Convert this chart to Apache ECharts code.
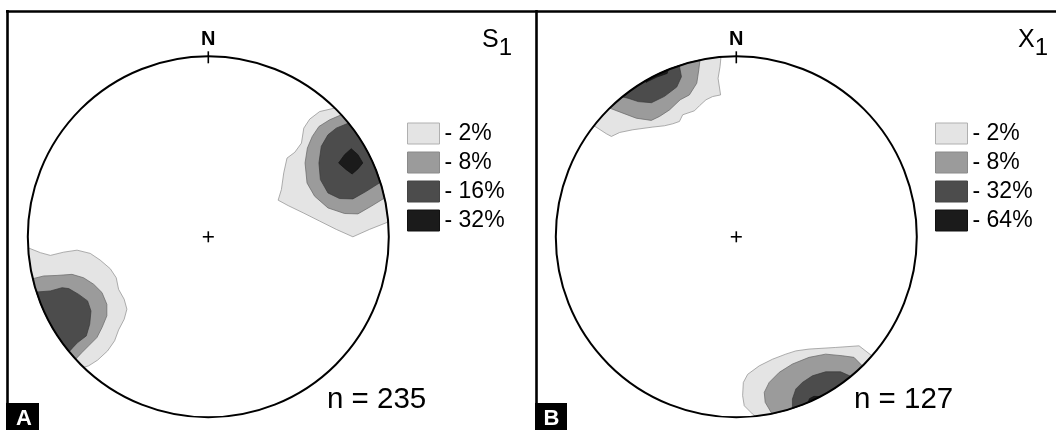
<!DOCTYPE html>
<html>
<head>
<meta charset="utf-8">
<title>Stereonet contour plots</title>
<script src="https://cdn.jsdelivr.net/npm/echarts@6/dist/echarts.min.js"></script>
<style>
  html, body { margin: 0; padding: 0; background: #fff; }
  #chart { width: 1056px; height: 430px; }
</style>
</head>
<body>
<div id="chart"></div>
<script>
// ---- data: contour levels, sample sizes and contour outlines ----
// Outlines are given as [east, north] on the unit primitive circle
// (radius 1, north up). Open outlines start and end on the rim and are
// closed along the rim arc; the others are closed polygons.

const S1_LEVELS = ['2%', '8%', '16%', '32%'];
const X1_LEVELS = ['2%', '8%', '32%', '64%'];
const S1_COUNT = 235;
const X1_COUNT = 127;

// S1 poles, 2% contour
const S1_CONTOUR_2 = [
  [[0.700,0.713],[0.617,0.694],[0.562,0.652],[0.529,0.602],[0.516,0.519],[0.479,0.468],[0.436,0.436],[0.418,0.354],[0.405,0.262],[0.387,0.203],[0.442,0.173],[0.525,0.133],[0.617,0.087],[0.709,0.041],[0.801,0.000],[0.893,0.041],[0.994,0.081]],
  [[-0.998,-0.061],[-0.930,-0.088],[-0.875,-0.103],[-0.801,-0.085],[-0.727,-0.074],[-0.654,-0.092],[-0.599,-0.129],[-0.543,-0.177],[-0.510,-0.227],[-0.497,-0.291],[-0.466,-0.346],[-0.451,-0.401],[-0.466,-0.457],[-0.497,-0.516],[-0.519,-0.576],[-0.558,-0.632],[-0.613,-0.683],[-0.663,-0.715],[-0.691,-0.723]]
];
// S1 poles, 8% contour
const S1_CONTOUR_8 = [
  [[0.737,0.676],[0.672,0.648],[0.613,0.611],[0.576,0.556],[0.549,0.492],[0.536,0.409],[0.547,0.298],[0.589,0.225],[0.663,0.160],[0.755,0.129],[0.829,0.127],[0.902,0.169],[0.977,0.215]],
  [[-0.972,-0.232],[-0.912,-0.217],[-0.838,-0.214],[-0.755,-0.208],[-0.691,-0.227],[-0.635,-0.263],[-0.589,-0.309],[-0.562,-0.374],[-0.562,-0.438],[-0.589,-0.503],[-0.617,-0.558],[-0.663,-0.604],[-0.700,-0.641],[-0.735,-0.678]]
];
// S1 poles, 16% contour
const S1_CONTOUR_16 = [
  [[0.777,0.630],[0.709,0.602],[0.663,0.565],[0.626,0.501],[0.613,0.409],[0.621,0.317],[0.663,0.243],[0.727,0.212],[0.801,0.210],[0.875,0.252],[0.954,0.302]],
  [[-0.952,-0.306],[-0.875,-0.300],[-0.810,-0.282],[-0.773,-0.287],[-0.718,-0.319],[-0.669,-0.355],[-0.650,-0.411],[-0.657,-0.484],[-0.676,-0.549],[-0.724,-0.586],[-0.750,-0.613],[-0.771,-0.637]]
];
// S1 poles, 32% contour (closed maximum)
const S1_CONTOUR_32 = [
  [[0.792,0.488],[0.755,0.455],[0.722,0.409],[0.764,0.372],[0.797,0.348],[0.829,0.376],[0.856,0.409],[0.829,0.455]]
];

// X1 lineations, 2% contour
const X1_CONTOUR_2 = [
  [[-0.085,0.996],[-0.090,0.943],[-0.101,0.878],[-0.087,0.786],[-0.131,0.777],[-0.168,0.759],[-0.204,0.726],[-0.232,0.698],[-0.297,0.676],[-0.315,0.639],[-0.352,0.626],[-0.398,0.615],[-0.462,0.608],[-0.573,0.593],[-0.646,0.578],[-0.692,0.556],[-0.720,0.571],[-0.788,0.615]],
  [[0.751,-0.659],[0.680,-0.604],[0.551,-0.613],[0.403,-0.622],[0.330,-0.632],[0.274,-0.650],[0.201,-0.678],[0.127,-0.715],[0.063,-0.762],[0.039,-0.807],[0.035,-0.880],[0.044,-0.936],[0.090,-0.982],[0.105,-0.994]]
];
// X1 lineations, 8% contour
const X1_CONTOUR_8 = [
  [[-0.201,0.980],[-0.208,0.924],[-0.219,0.851],[-0.260,0.786],[-0.311,0.759],[-0.370,0.703],[-0.425,0.667],[-0.471,0.645],[-0.554,0.657],[-0.628,0.685],[-0.702,0.713]],
  [[0.698,-0.715],[0.652,-0.668],[0.587,-0.659],[0.495,-0.650],[0.403,-0.668],[0.311,-0.705],[0.238,-0.751],[0.182,-0.807],[0.155,-0.862],[0.160,-0.917],[0.182,-0.954],[0.197,-0.980]]
];
// X1 lineations, 32% contour
const X1_CONTOUR_32 = [
  [[-0.316,0.949],[-0.304,0.887],[-0.330,0.830],[-0.398,0.778],[-0.470,0.743],[-0.543,0.749],[-0.600,0.768],[-0.632,0.775]],
  [[0.634,-0.773],[0.578,-0.748],[0.495,-0.748],[0.422,-0.770],[0.366,-0.807],[0.330,-0.843],[0.311,-0.899],[0.311,-0.950]]
];
// X1 lineations, 64% contour
const X1_CONTOUR_64 = [
  [[-0.377,0.926],[-0.383,0.905],[-0.440,0.885],[-0.488,0.862],[-0.500,0.855],[-0.496,0.868]],
  [[0.398,-0.917],[0.405,-0.897],[0.430,-0.884],[0.458,-0.885],[0.475,-0.880]]
];

// ---- styling ----
const FONT = "'Liberation Sans', Arial, Helvetica, sans-serif";
const SHADES = ['#e4e4e4', '#9b9b9b', '#4c4c4c', '#1b1b1b'];
const EDGES  = ['#8c8c8c', '#666666', '#3a3a3a', '#111111'];
const BOX_EDGES = ['#b0b0b0', '#8a8a8a', '#444444', '#111111'];

// Close an outline whose ends sit on the rim by following the rim arc
function closeOnRim(pts) {
  const out = pts.slice();
  const f = pts[0], l = pts[pts.length - 1];
  const onRim = p => Math.hypot(p[0], p[1]) > 0.98;
  if (onRim(f) && onRim(l)) {
    const a0 = Math.atan2(l[1], l[0]);
    let d = Math.atan2(f[1], f[0]) - a0;
    while (d > Math.PI) d -= 2 * Math.PI;
    while (d < -Math.PI) d += 2 * Math.PI;
    const n = Math.max(2, Math.ceil(Math.abs(d) / 0.01));
    for (let i = 1; i < n; i++) {
      const a = a0 + d * i / n;
      out.push([Math.cos(a), Math.sin(a)]);
    }
  }
  return out;
}

function contourSeries(key, gridIdx, level, polys, shade) {
  return {
    type: 'custom',
    name: key + ' ' + level,
    coordinateSystem: 'cartesian2d',
    xAxisIndex: gridIdx,
    yAxisIndex: gridIdx,
    z: 2,
    silent: true,
    itemStyle: { color: SHADES[shade] },
    data: polys.map((p, i) => [i]),
    renderItem: function (params, api) {
      const pts = closeOnRim(polys[params.dataIndex]).map(p => api.coord(p));
      return {
        type: 'polygon',
        shape: { points: pts },
        style: { fill: SHADES[shade], stroke: EDGES[shade], lineWidth: 0.7 }
      };
    }
  };
}

// primitive circle, north tick, centre cross and "N"
function rimSeries(gridIdx) {
  return {
    type: 'custom',
    coordinateSystem: 'cartesian2d',
    xAxisIndex: gridIdx,
    yAxisIndex: gridIdx,
    z: 3,
    silent: true,
    data: [[0, 0]],
    renderItem: function (params, api) {
      const c = api.coord([0, 0]);
      const top = api.coord([0, 1]);
      const r = c[1] - top[1];
      const ink = { stroke: '#000', lineWidth: 1.6 };
      return {
        type: 'group',
        children: [
          { type: 'circle', shape: { cx: c[0], cy: c[1], r: r }, style: { fill: 'none', stroke: '#000', lineWidth: 2 } },
          { type: 'line', shape: { x1: top[0], y1: top[1] - 5, x2: top[0], y2: top[1] + 7 }, style: ink },
          { type: 'line', shape: { x1: c[0] - 5.5, y1: c[1], x2: c[0] + 5.5, y2: c[1] }, style: ink },
          { type: 'line', shape: { x1: c[0], y1: c[1] - 5.5, x2: c[0], y2: c[1] + 5.5 }, style: ink },
          { type: 'text', style: { text: 'N', x: top[0], y: top[1] - 16.5, align: 'center', verticalAlign: 'middle',
              fontSize: 20, fontWeight: 'bold', fontFamily: FONT, fill: '#000' } }
        ]
      };
    }
  };
}

function legendFor(key, levels, left) {
  return {
    orient: 'vertical',
    left: left,
    top: 122,
    padding: 0,
    itemWidth: 32,
    itemHeight: 21,
    itemGap: 6,
    icon: 'rect',
    selectedMode: false,
    textStyle: { fontSize: 23, lineHeight: 21, color: '#000', fontFamily: FONT },
    formatter: name => '- ' + name.split(' ')[1],
    data: levels.map((lv, i) => ({
      name: key + ' ' + lv,
      itemStyle: { color: SHADES[i], borderColor: BOX_EDGES[i], borderWidth: 1 }
    }))
  };
}

const s1Sets = [S1_CONTOUR_2, S1_CONTOUR_8, S1_CONTOUR_16, S1_CONTOUR_32];
const x1Sets = [X1_CONTOUR_2, X1_CONTOUR_8, X1_CONTOUR_32, X1_CONTOUR_64];

const series = [];
S1_LEVELS.forEach((lv, i) => series.push(contourSeries('S1', 0, lv, s1Sets[i], i)));
X1_LEVELS.forEach((lv, i) => series.push(contourSeries('X1', 1, lv, x1Sets[i], i)));
series.push(rimSeries(0), rimSeries(1));

const axisOff = { type: 'value', min: -1, max: 1, show: false };

const frame = { stroke: '#000', lineWidth: 2.6 };

const titleRich = {
  a: { fontSize: 25, fontFamily: FONT, verticalAlign: 'top', lineHeight: 32 },
  b: { fontSize: 24, fontFamily: FONT, verticalAlign: 'bottom', lineHeight: 32 }
};

const option = {
  animation: false,
  backgroundColor: '#fff',
  grid: [
    { left: 27.8, top: 56.3, width: 361, height: 361 },
    { left: 555.8, top: 56.3, width: 361, height: 361 }
  ],
  xAxis: [Object.assign({ gridIndex: 0 }, axisOff), Object.assign({ gridIndex: 1 }, axisOff)],
  yAxis: [Object.assign({ gridIndex: 0 }, axisOff), Object.assign({ gridIndex: 1 }, axisOff)],
  legend: [legendFor('S1', S1_LEVELS, 407), legendFor('X1', X1_LEVELS, 935)],
  series: series,
  graphic: [
    { type: 'line', shape: { x1: 6, y1: 11.5, x2: 1056, y2: 11.5 }, style: frame, silent: true },
    { type: 'line', shape: { x1: 7.5, y1: 10, x2: 7.5, y2: 430 }, style: frame, silent: true },
    { type: 'line', shape: { x1: 536.5, y1: 10, x2: 536.5, y2: 430 }, style: frame, silent: true },
    { type: 'rect', shape: { x: 6, y: 403, width: 33, height: 27 }, style: { fill: '#000' }, silent: true },
    { type: 'text', style: { text: 'A', x: 24, y: 418.5, align: 'center', verticalAlign: 'middle',
        fontSize: 22, fontWeight: 'bold', fontFamily: FONT, fill: '#fff' }, silent: true },
    { type: 'rect', shape: { x: 535, y: 403, width: 32, height: 27 }, style: { fill: '#000' }, silent: true },
    { type: 'text', style: { text: 'B', x: 551.5, y: 418.5, align: 'center', verticalAlign: 'middle',
        fontSize: 22, fontWeight: 'bold', fontFamily: FONT, fill: '#fff' }, silent: true },
    { type: 'text', style: { text: 'n = ' + S1_COUNT, x: 327, y: 400, verticalAlign: 'middle',
        fontSize: 29.5, fontFamily: FONT, fill: '#000' }, silent: true },
    { type: 'text', style: { text: 'n = ' + X1_COUNT, x: 854, y: 400, verticalAlign: 'middle',
        fontSize: 29.5, fontFamily: FONT, fill: '#000' }, silent: true },
    { type: 'text', style: { text: '{a|S}{b|1}', x: 482, y: 28, verticalAlign: 'top', fill: '#000',
        rich: titleRich }, silent: true },
    { type: 'text', style: { text: '{a|X}{b|1}', x: 1018, y: 28, verticalAlign: 'top', fill: '#000',
        rich: titleRich }, silent: true }
  ]
};

const chart = echarts.init(document.getElementById('chart'), null, { renderer: 'canvas' });
chart.setOption(option);
</script>
</body>
</html>
